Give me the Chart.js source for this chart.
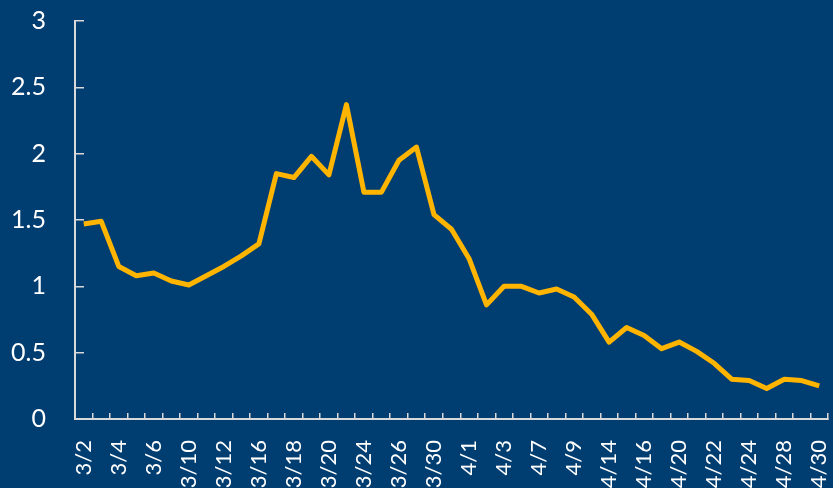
<!DOCTYPE html>
<html>
<head>
<meta charset="utf-8">
<script src="https://cdn.jsdelivr.net/npm/chart.js@4/dist/chart.umd.min.js"></script>
<style>
  html, body { margin: 0; padding: 0; background: #003d71; }
  #chart { display: block; }
</style>
</head>
<body>
<canvas id="chart" width="833" height="488"></canvas>
<script>
const labels = [
  '3/2', '3/3', '3/4', '3/5', '3/6', '3/9', '3/10', '3/11', '3/12', '3/13',
  '3/16', '3/17', '3/18', '3/19', '3/20', '3/23', '3/24', '3/25', '3/26', '3/27',
  '3/30', '3/31', '4/1', '4/2', '4/3', '4/6', '4/7', '4/8', '4/9', '4/13',
  '4/14', '4/15', '4/16', '4/17', '4/20', '4/21', '4/22', '4/23', '4/24', '4/27',
  '4/28', '4/29', '4/30',
]
const values = [
  1.47, 1.49, 1.15, 1.08, 1.10, 1.04, 1.01, 1.08, 1.15, 1.23,
  1.32, 1.85, 1.82, 1.98, 1.84, 2.37, 1.71, 1.71, 1.95, 2.05,
  1.54, 1.43, 1.21, 0.86, 1.00, 1.00, 0.95, 0.98, 0.92, 0.79,
  0.58, 0.69, 0.63, 0.53, 0.58, 0.51, 0.42, 0.30, 0.29, 0.23,
  0.30, 0.29, 0.25,
]
const yTicks = [0, 0.5, 1, 1.5, 2, 2.5, 3]

const axisColor = '#d9d9d9'
const textColor = '#ffffff'

// keep the plot box where the reference has it
function noPadding(scale) {
  scale.paddingLeft = 0
  scale.paddingRight = 0
  scale.paddingTop = 0
  scale.paddingBottom = 0
}

let ctx = document.getElementById('chart')
new Chart(ctx, {
  type: 'line',
  data: {
    labels,
    datasets: [{
      data: values,
      borderColor: '#ffb400',
      borderWidth: 5,
      borderJoinStyle: 'round',
      pointRadius: 0,
      tension: 0,
      fill: false,
    }],
  },
  options: {
    responsive: false,
    animation: false,
    layout: {
      padding: { top: 21, right: 5, bottom: 0, left: 0 },
    },
    plugins: {
      legend: { display: false },
      tooltip: { enabled: false },
    },
    scales: {
      x: {
        offset: true,
        grid: {
          offset: true,
          drawOnChartArea: false,
          color: axisColor,
          lineWidth: 1.5,
          tickLength: -6,
        },
        border: { color: axisColor, width: 2 },
        ticks: {
          autoSkip: false,
          minRotation: 90,
          maxRotation: 90,
          padding: 27,
          color: textColor,
          font: { family: 'Lato', size: 22 },
          callback: (v, i) => (i % 2 === 0 ? labels[i] : ''),
        },
        afterFit: (scale) => {
          scale.height = 69
          noPadding(scale)
        },
      },
      y: {
        min: yTicks[0],
        max: yTicks[yTicks.length - 1],
        afterBuildTicks: (scale) => { scale.ticks = yTicks.map((v) => ({ value: v })) },
        grid: {
          drawOnChartArea: false,
          color: axisColor,
          lineWidth: 1.5,
          tickLength: -9,
        },
        border: { color: axisColor, width: 2 },
        ticks: {
          padding: 38,
          color: textColor,
          font: { family: 'Lato', size: 25 },
          callback: (v) => String(v),
        },
        afterFit: (scale) => {
          scale.width = 75
          noPadding(scale)
        },
      },
    },
  },
})
</script>
</body>
</html>
